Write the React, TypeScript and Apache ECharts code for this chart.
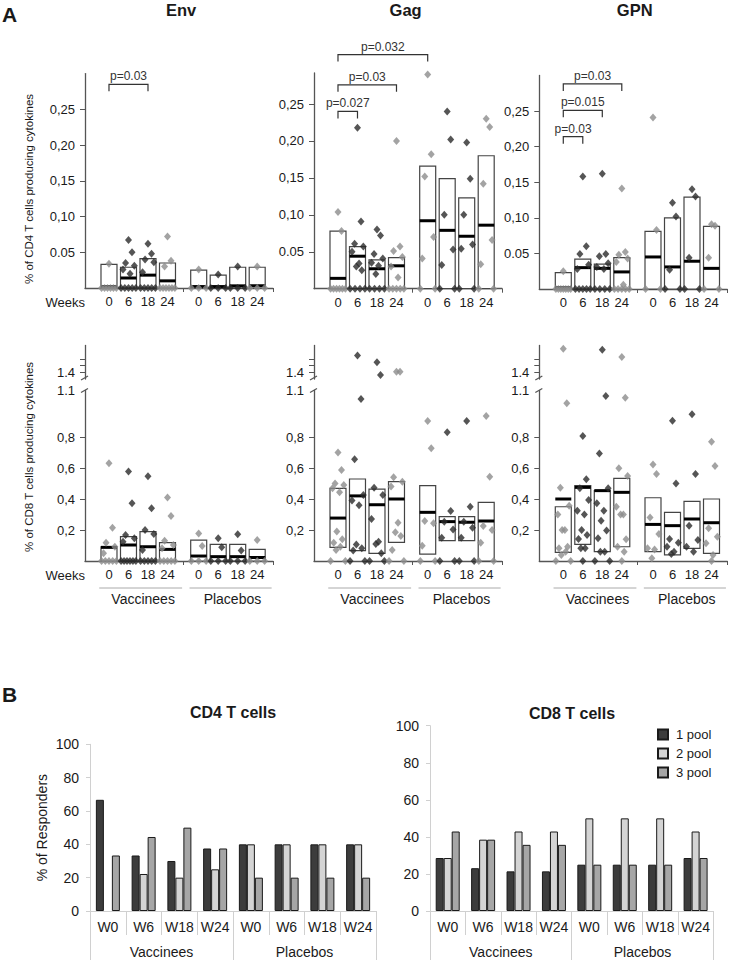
import React, { useEffect, useRef } from 'react';
import * as echarts from 'echarts';

// ---------------- DATA ----------------
const WEEK_LABELS = ['0', '6', '18', '24', '0', '6', '18', '24'];
const GROUP_LABELS = ['Vaccinees', 'Placebos'];
const ANTIGENS = ['Env', 'Gag', 'GPN'];
const CD4_TICKS = [0.05, 0.1, 0.15, 0.2, 0.25];
const CD4_TICK_LABELS = ['0.05', '0,10', '0,15', '0,20', '0,25'];
const CD8_TICKS = [0.2, 0.4, 0.6, 0.8, 1.1];
const CD8_TICK_LABELS = ['0,2', '0,4', '0,6', '0,8', '1.1'];
const CD8_UP_TICKS = [1.4, 1.45, 1.5];
const CD8_UP_LABEL_TICKS = [1.4];
const CD8_UP_LABELS = ['1.4'];
const DARK_SLOTS = [1, 2, 5, 6];

// boxes: [low, high, median] per slot (V0,V6,V18,V24,P0,P6,P18,P24)
const envCD4Boxes = [[0, 0.033, 0.002], [0, 0.029, 0.014], [0, 0.041, 0.018], [0, 0.035, 0.010], [0, 0.025, 0.002], [0, 0.018, 0.002], [0, 0.029, 0.003], [0, 0.029, 0.003]];
const envCD4Points = [
  [0.034, 0, 0, 0, 0, 0, 0],
  [0.067, 0.050, 0.035, 0.031, 0.026, 0.020, 0, 0, 0, 0, 0],
  [0.062, 0.048, 0.040, 0.036, 0.022, 0, 0, 0, 0, 0],
  [0.072, 0.038, 0.030, 0, 0, 0, 0, 0, 0],
  [0.026, 0, 0, 0],
  [0.019, 0, 0, 0],
  [0.030, 0, 0, 0],
  [0.030, 0, 0, 0],
];
const gagCD4Boxes = [[0, 0.078, 0.014], [0, 0.057, 0.044], [0, 0.039, 0.027], [0, 0.042, 0.031], [0, 0.166, 0.092], [0, 0.149, 0.079], [0, 0.123, 0.071], [0, 0.18, 0.086]];
const gagCD4Points = [
  [0.104, 0.078, 0, 0, 0, 0, 0, 0],
  [0.218, 0.091, 0.061, 0.057, 0.05, 0.034, 0.03, 0.025, 0, 0, 0, 0],
  [0.080, 0.072, 0.047, 0.041, 0.035, 0.031, 0.02, 0, 0, 0, 0],
  [0.20, 0.057, 0.051, 0.043, 0.03, 0.015, 0, 0, 0, 0, 0],
  [0.29, 0.182, 0.152, 0.07, 0.041, 0, 0],
  [0.24, 0.202, 0.10, 0.053, 0.032, 0, 0],
  [0.198, 0.149, 0.10, 0.06, 0.054, 0, 0],
  [0.23, 0.219, 0.142, 0.066, 0.033, 0, 0],
];
const gpnCD4Boxes = [[0, 0.023, 0.002], [0, 0.042, 0.030], [0, 0.035, 0.029], [0, 0.044, 0.024], [0, 0.081, 0.045], [0, 0.10, 0.031], [0, 0.129, 0.039], [0, 0.088, 0.029]];
const gpnCD4Points = [
  [0.025, 0, 0, 0, 0, 0, 0, 0],
  [0.158, 0.060, 0.049, 0.034, 0.028, 0, 0, 0, 0, 0],
  [0.162, 0.049, 0.046, 0.036, 0.031, 0.028, 0, 0, 0, 0],
  [0.141, 0.052, 0.048, 0.043, 0.038, 0.006, 0, 0, 0, 0, 0],
  [0.241, 0.083, 0, 0],
  [0.121, 0.102, 0.027, 0, 0],
  [0.14, 0.13, 0.044, 0, 0],
  [0.091, 0.089, 0.044, 0, 0],
];
const envCD8Boxes = [[0, 0.092, 0.088], [0, 0.157, 0.103], [0, 0.189, 0.092], [0, 0.118, 0.075], [0, 0.135, 0.032], [0, 0.107, 0.028], [0, 0.107, 0.028], [0, 0.075, 0.022]];
const envCD8Points = [
  [0.63, 0.215, 0.118, 0.092, 0.05, 0, 0, 0, 0, 0],
  [0.578, 0.372, 0.168, 0.146, 0.125, 0, 0, 0, 0, 0, 0],
  [0.546, 0.34, 0.2, 0.174, 0.071, 0, 0, 0, 0, 0],
  [0.41, 0.29, 0.131, 0.103, 0.082, 0, 0, 0, 0, 0],
  [0.178, 0.097, 0, 0, 0],
  [0.146, 0.088, 0, 0, 0],
  [0.172, 0.067, 0, 0, 0],
  [0.135, 0, 0, 0],
];
const gagCD8Boxes = [[0.088, 0.469, 0.277], [0.067, 0.529, 0.42], [0.049, 0.464, 0.363], [0.12, 0.512, 0.40], [0.045, 0.486, 0.314], [0.131, 0.286, 0.254], [0.131, 0.286, 0.25], [0, 0.378, 0.258]];
const gagCD8Points = [
  [0.70, 0.587, 0.50, 0.49, 0.47, 0.443, 0.19, 0.14, 0.118, 0.092, 0.071, 0, 0],
  [1.526, 1.045, 0.656, 0.426, 0.39, 0.36, 0.107, 0.082, 0.067, 0, 0],
  [1.475, 1.379, 0.473, 0.426, 0.271, 0.125, 0.11, 0.05, 0, 0],
  [1.404, 1.404, 0.54, 0.512, 0.48, 0.247, 0.185, 0.161, 0.071, 0, 0],
  [0.903, 0.727, 0.258, 0.243, 0.099, 0, 0],
  [0.83, 0.323, 0.254, 0.204, 0.15, 0, 0],
  [0.903, 0.35, 0.254, 0.215, 0.15, 0, 0],
  [0.935, 0.544, 0.226, 0.2, 0.118, 0, 0],
];
const gpnCD8Boxes = [[0.056, 0.35, 0.40], [0.107, 0.486, 0.475], [0.06, 0.454, 0.454], [0.092, 0.533, 0.443], [0.06, 0.408, 0.236], [0.039, 0.314, 0.228], [0.082, 0.385, 0.271], [0.049, 0.40, 0.247]];
const gpnCD8Points = [
  [1.576, 1.017, 0.473, 0.357, 0.30, 0.2, 0.2, 0.092, 0.082, 0.06, 0.039, 0, 0],
  [0.806, 0.527, 0.469, 0.393, 0.325, 0.30, 0.2, 0.168, 0.142, 0.082, 0.082, 0],
  [1.568, 1.064, 0.694, 0.469, 0.372, 0.325, 0.26, 0.196, 0.146, 0.06, 0.06, 0, 0],
  [1.514, 1.054, 0.598, 0.548, 0.35, 0.30, 0.30, 0.14, 0.092, 0.06, 0],
  [0.623, 0.561, 0.28, 0.174, 0.082, 0.075, 0.017],
  [0.905, 0.5, 0.142, 0.118, 0.092, 0.06, 0.045],
  [0.946, 0.561, 0.228, 0.135, 0.092, 0.06],
  [0.77, 0.613, 0.211, 0.157, 0.114, 0.039, 0],
];

// p-value brackets: panel index, from/to slot index, bracket height (axis units)
const BRACKETS = [
  { panel: 0, from: 0, to: 2, y: 0.285, text: 'p=0.03' },
  { panel: 1, from: 0, to: 1, y: 0.240, text: 'p=0.027' },
  { panel: 1, from: 0, to: 3, y: 0.276, text: 'p=0.03' },
  { panel: 1, from: 0, to: 4, y: 0.317, text: 'p=0.032' },
  { panel: 2, from: 0, to: 1, y: 0.214, text: 'p=0.03' },
  { panel: 2, from: 0, to: 2, y: 0.251, text: 'p=0.015' },
  { panel: 2, from: 0, to: 3, y: 0.288, text: 'p=0.03' },
];

// Panel B
const B_CATS = ['W0', 'W6', 'W18', 'W24', 'W0', 'W6', 'W18', 'W24'];
const POOL_NAMES = ['1 pool', '2 pool', '3 pool'];
const cd4Pool1 = [66.7, 33.3, 30, 37.5, 40, 40, 40, 40];
const cd4Pool2 = [0, 22.2, 20, 25, 40, 40, 40, 40];
const cd4Pool3 = [33.3, 44.4, 50, 37.5, 20, 20, 20, 20];
const cd8Pool1 = [28.6, 23.1, 21.4, 21.4, 25, 25, 25, 28.6];
const cd8Pool2 = [28.6, 38.5, 42.9, 42.9, 50, 50, 50, 42.9];
const cd8Pool3 = [42.9, 38.5, 35.7, 35.7, 25, 25, 25, 28.6];

// ---------------- LAYOUT / STYLE ----------------
const FONT = "'Liberation Sans', Arial, Helvetica, sans-serif";
const TEXT_C = '#1a1a1a';
const AXIS_C = '#555555';
const DARK = '#2a2a2a';
const GREY = '#8c8c8c';
const POOL_COLORS = ['#3c3c3c', '#d4d4d4', '#a6a6a6'];
const SLOT_POS = [0, 1, 2, 3, 4.6, 5.6, 6.6, 7.6];
const X_MIN = -1.23;
const X_MAX = 8.41;
const DIVIDER = 3.8;
const BOX_W = 0.82;
const NZ_JITTER = [0, 0.18, -0.15, 0.3, -0.28, 0.08, -0.06, 0.22, -0.22, 0.12, -0.1];
const A_LEFT = [85, 314, 539.3];
const A_WIDTH = 188;
const CD4_GRID = [
  { top: 73.6, height: 214.4, max: 0.30 },
  { top: 73, height: 215.7, max: 0.292 },
  { top: 75.4, height: 213.6, max: 0.30 },
];
const CD8_LOW = { top: 390.5, height: 170.5, max: 1.1 };
const CD8_UP = { top: 345.5, height: 33.5, min: 1.35, max: 1.6 };

const CD4_DATA = [[envCD4Boxes, envCD4Points], [gagCD4Boxes, gagCD4Points], [gpnCD4Boxes, gpnCD4Points]];
const CD8_DATA = [[envCD8Boxes, envCD8Points], [gagCD8Boxes, gagCD8Points], [gpnCD8Boxes, gpnCD8Points]];

const idxOf = (arr: number[], v: number) => arr.findIndex((t) => Math.abs(t - v) < 1e-6);

function jitter(vals: number[]) {
  const nz = vals.filter((v) => v === 0).length;
  let zi = 0;
  let ni = 0;
  return vals.map((v) => {
    if (v === 0) {
      const off = nz > 1 ? -0.38 + (0.76 * zi) / (nz - 1) : 0;
      zi++;
      return off;
    }
    const off = NZ_JITTER[ni % NZ_JITTER.length];
    ni++;
    return off;
  });
}

function pointData(slots: number[][], filter: (v: number) => boolean) {
  const out: any[] = [];
  slots.forEach((vals, i) => {
    const offs = jitter(vals);
    vals.forEach((v, j) => {
      if (filter(v)) out.push([SLOT_POS[i] + offs[j], v, i]);
    });
  });
  return out;
}

function renderBox(params: any, api: any) {
  const x = api.value(0);
  const lo = api.value(1);
  const hi = api.value(2);
  const med = api.value(3);
  const a = api.coord([x, lo]);
  const b = api.coord([x, hi]);
  const m = api.coord([x, med]);
  const w = api.size([BOX_W, 0])[0];
  return {
    type: 'group',
    children: [
      { type: 'rect', shape: { x: a[0] - w / 2, y: b[1], width: w, height: a[1] - b[1] }, style: { fill: '#ffffff', stroke: '#444444', lineWidth: 1.2 } },
      { type: 'rect', shape: { x: m[0] - w / 2, y: m[1] - 1.5, width: w, height: 3 }, style: { fill: '#000000' } },
    ],
  };
}

function aXAxis(gridIndex: number, show: boolean) {
  return {
    type: 'value', gridIndex, min: X_MIN, max: X_MAX, show,
    axisLine: { show: true, onZero: false, lineStyle: { color: AXIS_C, width: 1.3 } },
    axisTick: { show: true, customValues: [DIVIDER, X_MAX], length: 4, lineStyle: { color: AXIS_C } },
    axisLabel: {
      show: true, customValues: SLOT_POS,
      formatter: (v: number) => { const i = idxOf(SLOT_POS, v); return i >= 0 ? WEEK_LABELS[i] : ''; },
      margin: 7, fontSize: 13, color: TEXT_C, fontFamily: FONT,
    },
    splitLine: { show: false },
  };
}

function aYAxis(gridIndex: number, min: number, max: number, ticks: number[], labelTicks: number[], labels: string[]) {
  return {
    type: 'value', gridIndex, min, max,
    axisLine: { show: true, onZero: false, lineStyle: { color: AXIS_C, width: 1.3 } },
    axisTick: { show: true, customValues: ticks, length: 5, lineStyle: { color: AXIS_C } },
    axisLabel: {
      customValues: labelTicks,
      formatter: (v: number) => { const i = idxOf(labelTicks, v); return i >= 0 ? labels[i] : ''; },
      margin: 10, fontSize: 13, color: TEXT_C, fontFamily: FONT,
    },
    splitLine: { show: false },
  };
}

const pointColor = (p: any) => (DARK_SLOTS.includes(p.data[2]) ? DARK : GREY);

function buildOption() {
  const grid: any[] = [];
  const xAxis: any[] = [];
  const yAxis: any[] = [];
  const series: any[] = [];

  // grids 0-2: CD4
  for (let p = 0; p < 3; p++) {
    const g = CD4_GRID[p];
    grid.push({ left: A_LEFT[p], top: g.top, width: A_WIDTH, height: g.height, outerBoundsMode: 'none' });
    xAxis.push(aXAxis(p, true));
    yAxis.push(aYAxis(p, 0, g.max, CD4_TICKS, CD4_TICKS, CD4_TICK_LABELS));
  }
  // grids 3-5: CD8 lower
  for (let p = 0; p < 3; p++) {
    grid.push({ left: A_LEFT[p], top: CD8_LOW.top, width: A_WIDTH, height: CD8_LOW.height, outerBoundsMode: 'none' });
    xAxis.push(aXAxis(3 + p, true));
    yAxis.push(aYAxis(3 + p, 0, CD8_LOW.max, CD8_TICKS.slice(0, 4), CD8_TICKS, CD8_TICK_LABELS));
  }
  // grids 6-8: CD8 upper (axis break)
  for (let p = 0; p < 3; p++) {
    grid.push({ left: A_LEFT[p], top: CD8_UP.top, width: A_WIDTH, height: CD8_UP.height, outerBoundsMode: 'none' });
    xAxis.push(aXAxis(6 + p, false));
    yAxis.push(aYAxis(6 + p, CD8_UP.min, CD8_UP.max, CD8_UP_TICKS, CD8_UP_LABEL_TICKS, CD8_UP_LABELS));
  }

  for (let p = 0; p < 3; p++) {
    const [boxes, pts] = CD4_DATA[p] as any;
    series.push({
      type: 'custom', xAxisIndex: p, yAxisIndex: p, z: 2, renderItem: renderBox, clip: false,
      encode: { x: 0, y: [1, 2, 3] },
      data: boxes.map((b: number[], i: number) => [SLOT_POS[i], b[0], b[1], b[2]]),
    });
    series.push({
      type: 'scatter', xAxisIndex: p, yAxisIndex: p, z: 3, clip: false,
      symbol: 'diamond', symbolSize: [7, 8], itemStyle: { color: pointColor },
      data: pointData(pts, () => true),
    });
  }
  for (let p = 0; p < 3; p++) {
    const [boxes, pts] = CD8_DATA[p] as any;
    series.push({
      type: 'custom', xAxisIndex: 3 + p, yAxisIndex: 3 + p, z: 2, renderItem: renderBox, clip: false,
      encode: { x: 0, y: [1, 2, 3] },
      data: boxes.map((b: number[], i: number) => [SLOT_POS[i], b[0], b[1], b[2]]),
    });
    series.push({
      type: 'scatter', xAxisIndex: 3 + p, yAxisIndex: 3 + p, z: 3, clip: false,
      symbol: 'diamond', symbolSize: [7, 8], itemStyle: { color: pointColor },
      data: pointData(pts, (v) => v <= CD8_LOW.max),
    });
    series.push({
      type: 'scatter', xAxisIndex: 6 + p, yAxisIndex: 6 + p, z: 3, clip: false,
      symbol: 'diamond', symbolSize: [7, 8], itemStyle: { color: pointColor },
      data: pointData(pts, (v) => v > CD8_LOW.max),
    });
  }

  // Panel B grids 9, 10
  const bGrids = [
    { left: 90, top: 744.3, width: 286, height: 166.7 },
    { left: 430, top: 725.7, width: 283.3, height: 185.3 },
  ];
  const bData = [[cd4Pool1, cd4Pool2, cd4Pool3], [cd8Pool1, cd8Pool2, cd8Pool3]];
  bGrids.forEach((g, k) => {
    const gi = 9 + k;
    grid.push({ ...g, outerBoundsMode: 'none' });
    xAxis.push({
      type: 'category', gridIndex: gi, data: B_CATS, position: 'bottom',
      axisLine: { show: true, lineStyle: { color: '#d0d0d0', width: 1 } },
      axisTick: { show: true, interval: 0, length: 24, lineStyle: { color: '#d0d0d0' } },
      axisLabel: { interval: 0, margin: 9, fontSize: 14, color: TEXT_C, fontFamily: FONT },
    });
    yAxis.push({
      type: 'value', gridIndex: gi, min: 0, max: 100, interval: 20,
      name: k === 0 ? '% of Responders' : '', nameLocation: 'middle', nameGap: 41,
      nameTextStyle: { fontSize: 14, color: TEXT_C, fontFamily: FONT },
      axisLine: { show: true, lineStyle: { color: '#d0d0d0' } },
      axisTick: { show: true, length: 4, lineStyle: { color: '#d0d0d0' } },
      axisLabel: { margin: 11, fontSize: 14, color: TEXT_C, fontFamily: FONT },
      splitLine: { show: false },
    });
  });
  bGrids.forEach((g, k) => {
    xAxis.push({
      type: 'category', gridIndex: 9 + k, data: GROUP_LABELS, position: 'bottom', offset: 24,
      axisLine: { show: false },
      axisTick: { show: true, interval: 0, length: 27, lineStyle: { color: '#d0d0d0' } },
      axisLabel: { interval: 0, margin: 10, fontSize: 14, color: TEXT_C, fontFamily: FONT },
    });
  });
  bData.forEach((pools, k) => {
    pools.forEach((vals, j) => {
      series.push({
        type: 'bar', name: POOL_NAMES[j], xAxisIndex: 9 + k, yAxisIndex: 9 + k,
        data: vals.map((v) => (v === 0 ? null : v)), barWidth: 8, barGap: '0%',
        itemStyle: { color: POOL_COLORS[j], borderColor: '#1a1a1a', borderWidth: 1 },
      });
    });
  });

  return {
    animation: false,
    backgroundColor: '#ffffff',
    textStyle: { fontFamily: FONT },
    grid, xAxis, yAxis, series,
    legend: {
      data: POOL_NAMES, orient: 'vertical', left: 652, top: 723,
      itemWidth: 10, itemHeight: 10, itemGap: 6, icon: 'rect',
      textStyle: { fontSize: 13, color: TEXT_C, fontFamily: FONT, padding: [0, 0, 0, 3] },
      selectedMode: false,
    },
  };
}

function txt(text: string, x: number, y: number, o: any = {}) {
  const align = o.align || 'center';
  const valign = o.valign || 'middle';
  return {
    type: 'text', x, y, rotation: o.rotation || 0, silent: true, z: 10,
    style: {
      text, fill: o.color || TEXT_C,
      font: `${o.weight || 'normal'} ${o.size || 13}px ${FONT}`,
      textAlign: align, textVerticalAlign: valign, align, verticalAlign: valign,
    },
  };
}

function buildGraphics(chart: any) {
  const els: any[] = [];
  const px = (gi: number, x: number, y: number) => chart.convertToPixel({ gridIndex: gi }, [x, y]);
  const lineStyle = { stroke: '#333333', lineWidth: 1.2 };

  els.push(txt('A', 2, 14, { size: 21, weight: 'bold', align: 'left' }));
  const titleX = [181, 405.6, 634.7];
  ANTIGENS.forEach((a, i) => els.push(txt(a, titleX[i], 9.5, { size: 16.5, weight: 'bold' })));

  els.push(txt('% of CD4 T cells producing cytokines', 29, 189, { size: 11.5, rotation: Math.PI / 2 }));
  els.push(txt('% of CD8 T cells producing cytokines', 29, 457, { size: 11.5, rotation: Math.PI / 2 }));

  const w0 = px(0, X_MIN, 0);
  els.push(txt('Weeks', w0[0], w0[1] + 14, { size: 13, align: 'right' }));
  const w1 = px(3, X_MIN, 0);
  els.push(txt('Weeks', w1[0], w1[1] + 14, { size: 13, align: 'right' }));

  BRACKETS.forEach((b) => {
    const a = px(b.panel, SLOT_POS[b.from], b.y);
    const c = px(b.panel, SLOT_POS[b.to], b.y);
    els.push({
      type: 'polyline', silent: true, z: 10,
      shape: { points: [[a[0], a[1] + 7], [a[0], a[1]], [c[0], a[1]], [c[0], a[1] + 7]] },
      style: { ...lineStyle, fill: 'none' },
    });
    els.push(txt(b.text, (a[0] + c[0]) / 2, a[1] - 8, { size: 12, color: '#333333' }));
  });

  // group underlines and labels under CD8 panels
  const groupSpans = [[-0.5, 3.75], [4.13, 8.34]];
  const groupText = [1.75, 6.33];
  for (let p = 0; p < 3; p++) {
    const base = px(3 + p, 0, 0)[1];
    groupSpans.forEach((s, k) => {
      const x1 = px(3 + p, s[0], 0)[0];
      const x2 = px(3 + p, s[1], 0)[0];
      els.push({ type: 'line', silent: true, shape: { x1, y1: base + 27, x2, y2: base + 27 }, style: { stroke: '#aaaaaa', lineWidth: 1 } });
      els.push(txt(GROUP_LABELS[k], px(3 + p, groupText[k], 0)[0], base + 38, { size: 14 }));
    });
    // axis break marks
    const lt = px(3 + p, X_MIN, CD8_LOW.max);
    const ub = px(6 + p, X_MIN, CD8_UP.min);
    els.push({ type: 'line', silent: true, z: 10, shape: { x1: lt[0] - 4, y1: lt[1] + 2, x2: lt[0] + 3, y2: lt[1] - 2 }, style: { stroke: AXIS_C, lineWidth: 1.3 } });
    els.push({ type: 'line', silent: true, z: 10, shape: { x1: ub[0] - 4, y1: ub[1] + 1, x2: ub[0] + 3, y2: ub[1] - 3 }, style: { stroke: AXIS_C, lineWidth: 1.3 } });
  }

  els.push(txt('B', 2, 694, { size: 21, weight: 'bold', align: 'left' }));
  els.push(txt('CD4 T cells', 233, 712, { size: 16, weight: 'bold' }));
  els.push(txt('CD8 T cells', 572, 713, { size: 16, weight: 'bold' }));
  return els;
}

export default function App() {
  const ref = useRef<HTMLDivElement>(null);
  useEffect(() => {
    document.body.style.margin = '0';
    const chart = echarts.init(ref.current as HTMLDivElement, null, { renderer: 'svg' });
    chart.setOption(buildOption() as any);
    chart.setOption({ graphic: buildGraphics(chart) } as any);
    return () => chart.dispose();
  }, []);
  return <div ref={ref} style={{ position: 'absolute', left: 0, top: 0, width: 735, height: 960 }} />;
}
